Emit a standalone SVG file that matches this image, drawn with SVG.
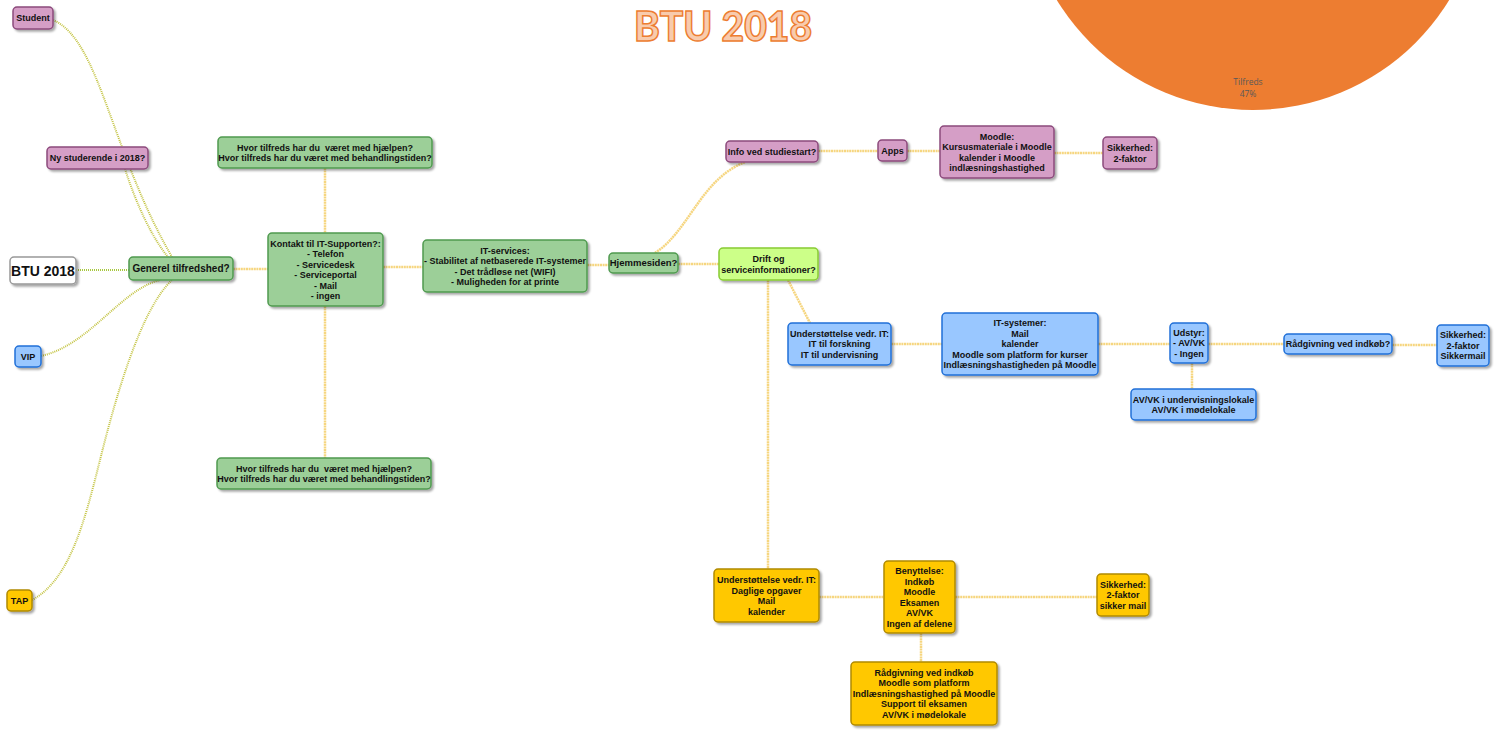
<svg xmlns="http://www.w3.org/2000/svg" width="1502" height="731" viewBox="0 0 1502 731">
<defs>
<filter id="sh" x="-20%" y="-20%" width="140%" height="150%">
<feDropShadow dx="2" dy="2" stdDeviation="1.2" flood-color="#000" flood-opacity="0.35"/>
</filter>
<style>
.n{filter:url(#sh);stroke-width:1.5}
.pink{fill:#d59ec6;stroke:#8c4a7c}
.green{fill:#9ccf98;stroke:#4f9a4f}
.blue{fill:#99c7ff;stroke:#2070d8}
.orange{fill:#ffc800;stroke:#b08a00}
.lime{fill:#ccff88;stroke:#88cc33}
.white{fill:#fff;stroke:#999}
text{font-family:"Liberation Sans",Arial,sans-serif;font-weight:bold;font-size:9px;fill:#111;text-anchor:middle;white-space:pre}
.c1{fill:none;stroke:#c4c444;stroke-width:2;stroke-dasharray:1 1}
.c0{fill:none;stroke:#a8c840;stroke-width:2;stroke-dasharray:1 1}
.c2{fill:none;stroke:#f6d680;stroke-width:2.5;stroke-dasharray:2 0.6}
</style>
</defs>
<rect width="1502" height="731" fill="#fff"/>
<g id="pie">
<circle cx="1253" cy="-120" r="230" fill="#ed7d31"/>
<text x="1248" y="85" style="font-family:'Open Sans',sans-serif;font-weight:normal;font-size:8.5px;fill:#595959">Tilfreds</text>
<text x="1248" y="97" style="font-family:'Open Sans',sans-serif;font-weight:normal;font-size:8.5px;fill:#595959">47%</text>
</g>
<g id="title">
<text x="723" y="40.5" textLength="178" lengthAdjust="spacingAndGlyphs" style="font-family:Lato,sans-serif;font-weight:900;font-size:41px;fill:#f8cbad;stroke:#ed7d31;stroke-width:1.5">BTU 2018</text>
</g>
<g id="connectors">
<path class="c0" d="M76 270 H129"/>
<path class="c1" d="M53 20 C100 40, 110 150, 172 257"/>
<path class="c1" d="M125 169 C135 200, 150 235, 168 257"/>
<path class="c1" d="M41 356 C90 345, 120 290, 160 280"/>
<path class="c1" d="M32 600 C70 580, 85 520, 100 460 S140 310, 172 280"/>
<path class="c2" d="M233 269 H268"/>
<path class="c2" d="M325 168 V233"/>
<path class="c2" d="M325 306 V458"/>
<path class="c2" d="M383 267 H423"/>
<path class="c2" d="M587 265 H609"/>
<path class="c2" d="M655 253 C690 230, 700 180, 745 162"/>
<path class="c2" d="M678 264 H719"/>
<path class="c2" d="M818 151 H878"/>
<path class="c2" d="M907 151 H940"/>
<path class="c2" d="M1054 153 H1103"/>
<path class="c2" d="M788 280 L810 323"/>
<path class="c2" d="M768 280 V569"/>
<path class="c2" d="M891 344 H942"/>
<path class="c2" d="M1098 344 H1170"/>
<path class="c2" d="M1208 344 H1284"/>
<path class="c2" d="M1392 345 H1437"/>
<path class="c2" d="M1192 363 V389"/>
<path class="c2" d="M819 597 H884"/>
<path class="c2" d="M955 597 H1097"/>
<path class="c2" d="M921 633 V662"/>
</g>
<g id="student"><rect class="n pink" x="13" y="7" width="40" height="22" rx="4"/><text x="33" y="21.3">Student</text></g>
<g id="ny"><rect class="n pink" x="47" y="147" width="101" height="22" rx="4"/><text x="97.5" y="161.3">Ny studerende i 2018?</text></g>
<g id="btu"><rect class="n white" x="10" y="257" width="66" height="27" rx="4"/><text x="43" y="275.5" style="font-size:14px">BTU 2018</text></g>
<g id="generel"><rect class="n green" x="129" y="257" width="104" height="23" rx="4"/><text x="181" y="272" style="font-size:10px">Generel tilfredshed?</text></g>
<g id="vip"><rect class="n blue" x="15" y="346" width="26" height="21" rx="4"/><text x="28" y="359.8">VIP</text></g>
<g id="tap"><rect class="n orange" x="7" y="590" width="25" height="21" rx="4"/><text x="19.5" y="603.8">TAP</text></g>
<g id="hjaelp1"><rect class="n green" x="218" y="137" width="214" height="31" rx="4"/><text x="325" y="150.5">Hvor tilfreds har du  været med hjælpen?</text><text x="325" y="161">Hvor tilfreds har du været med behandlingstiden?</text></g>
<g id="kontakt"><rect class="n green" x="268" y="233" width="115" height="73" rx="4"/>
<text x="325.5" y="246.5">Kontakt til IT-Supporten?:</text><text x="325.5" y="257">- Telefon</text><text x="325.5" y="267.5">- Servicedesk</text><text x="325.5" y="278">- Serviceportal</text><text x="325.5" y="288.5">- Mail</text><text x="325.5" y="299">- ingen</text></g>
<g id="hjaelp2"><rect class="n green" x="217" y="458" width="214" height="31" rx="4"/><text x="324" y="471.5">Hvor tilfreds har du  været med hjælpen?</text><text x="324" y="482">Hvor tilfreds har du været med behandlingstiden?</text></g>
<g id="itservices"><rect class="n green" x="423" y="240" width="164" height="52" rx="4"/>
<text x="505" y="253.5">IT-services:</text><text x="505" y="264">- Stabilitet af netbaserede IT-systemer</text><text x="505" y="274.5">- Det trådløse net (WIFI)</text><text x="505" y="285">- Muligheden for at printe</text></g>
<g id="hjemmesiden"><rect class="n green" x="609" y="253" width="69" height="20" rx="4"/><text x="643.5" y="266.3" style="font-size:9.5px">Hjemmesiden?</text></g>
<g id="drift"><rect class="n lime" x="719" y="248" width="99" height="32" rx="4"/><text x="768.5" y="262">Drift og</text><text x="768.5" y="272.5">serviceinformationer?</text></g>
<g id="info"><rect class="n pink" x="726" y="141" width="92" height="21" rx="4"/><text x="772" y="154.8">Info ved studiestart?</text></g>
<g id="apps"><rect class="n pink" x="878" y="140" width="29" height="21" rx="4"/><text x="892.5" y="153.8">Apps</text></g>
<g id="moodle"><rect class="n pink" x="940" y="126" width="114" height="52" rx="4"/>
<text x="997" y="139.5">Moodle:</text><text x="997" y="150">Kursusmateriale i Moodle</text><text x="997" y="160.5">kalender i Moodle</text><text x="997" y="171">indlæsningshastighed</text></g>
<g id="sikkerhed1"><rect class="n pink" x="1103" y="137" width="54" height="32" rx="4"/><text x="1130" y="151">Sikkerhed:</text><text x="1130" y="161.5">2-faktor</text></g>
<g id="understottelse1"><rect class="n blue" x="788" y="323" width="103" height="42" rx="4"/>
<text x="839.5" y="336.8">Understøttelse vedr. IT:</text><text x="839.5" y="347.3">IT til forskning</text><text x="839.5" y="357.8">IT til undervisning</text></g>
<g id="itsystemer"><rect class="n blue" x="942" y="313" width="156" height="62" rx="4"/>
<text x="1020" y="326.3">IT-systemer:</text><text x="1020" y="336.8">Mail</text><text x="1020" y="347.3">kalender</text><text x="1020" y="357.8">Moodle som platform for kurser</text><text x="1020" y="368.3">Indlæsningshastigheden på Moodle</text></g>
<g id="udstyr"><rect class="n blue" x="1170" y="323" width="38" height="40" rx="4"/>
<text x="1189" y="335.8">Udstyr:</text><text x="1189" y="346.3">- AV/VK</text><text x="1189" y="356.8">- Ingen</text></g>
<g id="radgivning1"><rect class="n blue" x="1284" y="334" width="108" height="20" rx="4"/><text x="1338" y="347.3">Rådgivning ved indkøb?</text></g>
<g id="sikkerhed2"><rect class="n blue" x="1437" y="325" width="52" height="41" rx="4"/>
<text x="1463" y="338.3">Sikkerhed:</text><text x="1463" y="348.8">2-faktor</text><text x="1463" y="359.3">Sikkermail</text></g>
<g id="avvk"><rect class="n blue" x="1131" y="389" width="125" height="31" rx="4"/><text x="1193.5" y="402.5">AV/VK i undervisningslokale</text><text x="1193.5" y="413">AV/VK i mødelokale</text></g>
<g id="understottelse2"><rect class="n orange" x="714" y="569" width="105" height="53" rx="4"/>
<text x="766.5" y="583">Understøttelse vedr. IT:</text><text x="766.5" y="593.5">Daglige opgaver</text><text x="766.5" y="604">Mail</text><text x="766.5" y="614.5">kalender</text></g>
<g id="benyttelse"><rect class="n orange" x="884" y="561" width="71" height="72" rx="4"/>
<text x="919.5" y="574">Benyttelse:</text><text x="919.5" y="584.5">Indkøb</text><text x="919.5" y="595">Moodle</text><text x="919.5" y="605.5">Eksamen</text><text x="919.5" y="616">AV/VK</text><text x="919.5" y="626.5">Ingen af delene</text></g>
<g id="sikkerhed3"><rect class="n orange" x="1097" y="574" width="52" height="42" rx="4"/>
<text x="1123" y="587.8">Sikkerhed:</text><text x="1123" y="598.3">2-faktor</text><text x="1123" y="608.8">sikker mail</text></g>
<g id="radgivning2"><rect class="n orange" x="851" y="662" width="146" height="63" rx="4"/>
<text x="924" y="675.8">Rådgivning ved indkøb</text><text x="924" y="686.3">Moodle som platform</text><text x="924" y="696.8">Indlæsningshastighed på Moodle</text><text x="924" y="707.3">Support til eksamen</text><text x="924" y="717.8">AV/VK i mødelokale</text></g>
</svg>
